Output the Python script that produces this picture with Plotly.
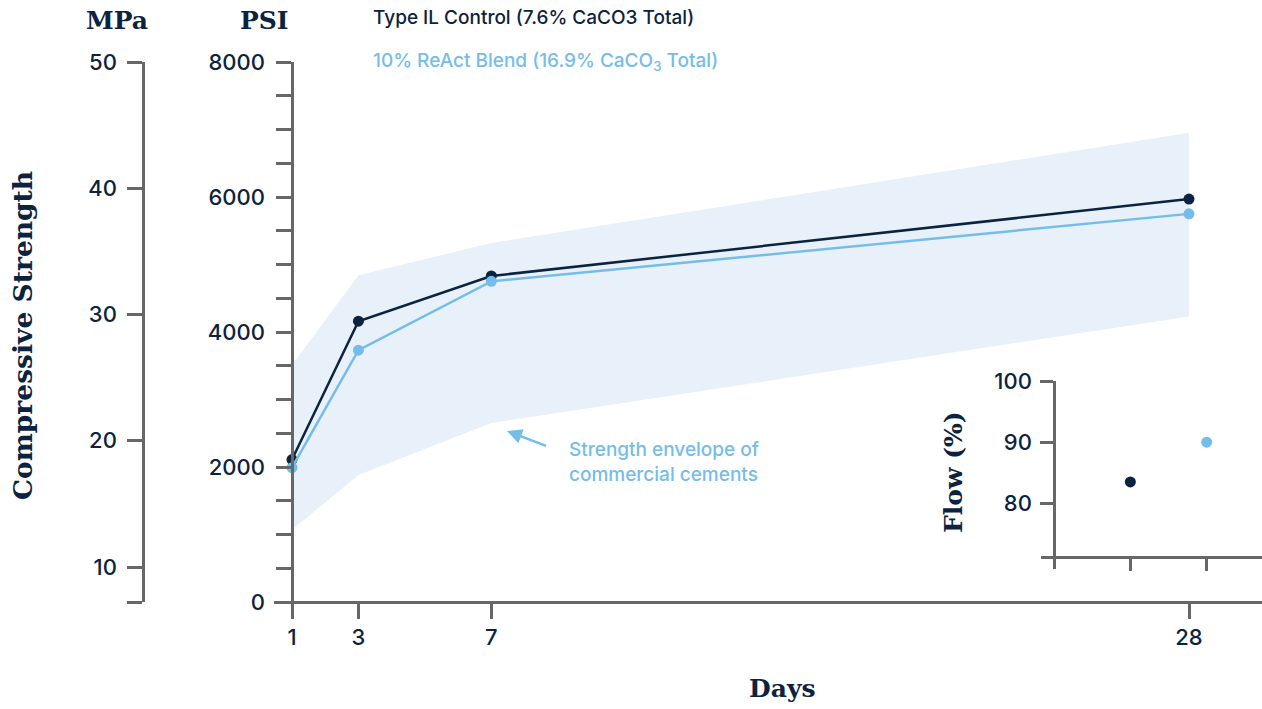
import plotly.graph_objects as go

# ---- data ----
days = [1, 3, 7, 28]
control_psi = [2110, 4160, 4830, 5970]
react_psi = [1990, 3730, 4750, 5750]
envelope_upper = [3510, 4840, 5320, 6950]
envelope_lower = [1070, 1880, 2650, 4230]
psi_ticks = [0, 2000, 4000, 6000, 8000]
mpa_ticks = [10, 20, 30, 40, 50]
flow_x = [1, 2]
flow_vals = [83.5, 90.0]
flow_ticks = [80, 90, 100]
control_name = "Type IL Control (7.6% CaCO3 Total)"
react_name = "10% ReAct Blend (16.9% CaCO<sub>3</sub> Total)"

# ---- style ----
W, H = 1262, 709
NAVY = "#0c2340"
LIGHT = "#74bde9"
FILL = "#e8f1f9"
AX = "#676767"
SANS = "Inter"
SERIF = "DejaVu Serif"


def px(x):
    return x / W


def py(y):
    return 1 - y / H


fig = go.Figure()

# envelope
fig.add_trace(go.Scatter(x=days, y=envelope_lower, mode="lines", line=dict(width=0),
                         hoverinfo="skip", showlegend=False))
fig.add_trace(go.Scatter(x=days, y=envelope_upper, mode="lines", line=dict(width=0),
                         fill="tonexty", fillcolor=FILL, hoverinfo="skip", showlegend=False))
# series
fig.add_trace(go.Scatter(x=days, y=control_psi, mode="lines+markers",
                         line=dict(color=NAVY, width=2.5), marker=dict(color=NAVY, size=11),
                         name=control_name, showlegend=False, cliponaxis=False))
fig.add_trace(go.Scatter(x=days, y=react_psi, mode="lines+markers",
                         line=dict(color=LIGHT, width=2.5), marker=dict(color=LIGHT, size=11),
                         name=react_name, showlegend=False, cliponaxis=False))
# dummy for MPa axis
fig.add_trace(go.Scatter(x=[1], y=[mpa_ticks[-1]], xaxis="x", yaxis="y3", mode="markers",
                         marker=dict(opacity=0), hoverinfo="skip", showlegend=False))
# inset flow
fig.add_trace(go.Scatter(x=flow_x, y=flow_vals, xaxis="x2", yaxis="y2", mode="markers",
                         marker=dict(color=[NAVY, LIGHT], size=11), showlegend=False,
                         cliponaxis=False))

# scales derived from pixel layout
x_day1, x_day28 = 292, 1189
sx = (x_day28 - x_day1) / (days[-1] - days[0])
x_rng = [days[0] - (x_day1 - 274) / sx, days[0] + (W - x_day1) / sx]

y_top, y_zero, y_ext = 62, 602, 617
sy = psi_ticks[-1] / (y_zero - y_top)
y_rng = [-(y_ext - y_zero) * sy, psi_ticks[-1]]

mpa_per_px = (mpa_ticks[-1] - mpa_ticks[0]) / (567 - y_top)
mpa_bottom = mpa_ticks[-1] - (y_zero - y_top) * mpa_per_px

ix0, ix_left = 1054, 1041
isx = (1206.7 - ix0) / 2
ix_rng = [-(ix0 - ix_left) / isx, (W - ix0) / isx]
iy_top, iy_axis, iy_ext = 381, 557.3, 569
isy = (503.3 - iy_top) / (flow_ticks[-1] - flow_ticks[0])
iy_rng = [flow_ticks[-1] - (iy_ext - iy_top) / isy, flow_ticks[-1]]

tickfont = dict(family=SANS, size=22, color=NAVY, weight=500)
common = dict(showgrid=False, zeroline=False, showline=True, linecolor=AX, linewidth=2.5,
              ticks="outside", tickcolor=AX, tickwidth=2.5, tickfont=tickfont, fixedrange=True)

fig.update_layout(
    width=W, height=H,
    margin=dict(l=0, r=0, t=0, b=0, pad=0, autoexpand=False),
    paper_bgcolor="white", plot_bgcolor="rgba(0,0,0,0)",
    showlegend=False,
    xaxis=dict(domain=[px(274), 1], range=x_rng, anchor="free", position=py(y_zero),
               tickmode="array", tickvals=days, ticklen=15, automargin=False, **common),
    yaxis=dict(domain=[py(y_ext), py(y_top)], range=y_rng, anchor="free", position=px(x_day1),
               tickmode="array", tickvals=psi_ticks, ticklen=15, ticklabelstandoff=7,
               automargin=False,
               minor=dict(tickmode="linear", tick0=0, dtick=500, ticklen=15, tickwidth=2.5,
                          tickcolor=AX, ticks="outside"),
               **common),
    yaxis3=dict(domain=[py(y_zero), py(y_top)], range=[mpa_bottom, mpa_ticks[-1]],
                anchor="free", position=px(143), tickmode="array",
                tickvals=[mpa_bottom] + mpa_ticks, ticktext=[" "] + [str(v) for v in mpa_ticks],
                ticklen=15, ticklabelstandoff=6, automargin=False, **common),
    xaxis2=dict(domain=[px(ix_left), 1], range=ix_rng, anchor="free", position=py(iy_axis),
                tickmode="array", tickvals=flow_x, ticklen=12, showticklabels=False,
                automargin=False, **common),
    yaxis2=dict(domain=[py(iy_ext), py(iy_top)], range=iy_rng, anchor="free", position=px(ix0),
                tickmode="array", tickvals=flow_ticks, ticklen=13, ticklabelstandoff=4,
                automargin=False, **common),
)

serif = dict(family=SERIF, size=25, color=NAVY)
ann = [
    dict(text="<b>MPa</b>", x=px(117), y=py(21), font=serif),
    dict(text="<b>PSI</b>", x=px(264), y=py(21), font=serif),
    dict(text="<b>Compressive Strength</b>", x=px(23), y=py(336), textangle=-90,
         font=dict(family=SERIF, size=26.5, color=NAVY)),
    dict(text="<b>Days</b>", x=px(782), y=py(688), font=serif),
    dict(text="<b>Flow (%)</b>", x=px(953), y=py(472), textangle=-90, font=serif),
    dict(text=control_name, x=px(371), y=py(18), xanchor="left",
         font=dict(family=SANS, size=19, color=NAVY, weight=500)),
    dict(text=react_name, x=px(371), y=py(62), xanchor="left",
         font=dict(family=SANS, size=19, color=LIGHT, weight=500)),
    dict(text="Strength envelope of<br>commercial cements", x=px(567), y=py(462),
         xanchor="left", align="left", font=dict(family=SANS, size=19, color=LIGHT, weight=500)),
]
for a in ann:
    a.setdefault("xanchor", "center")
    fig.add_annotation(xref="paper", yref="paper", showarrow=False, yanchor="middle", **a)

# arrow pointing at the envelope
fig.add_annotation(xref="paper", yref="paper", x=px(507), y=py(431), text=" ",
                   showarrow=True, ax=42, ay=16, arrowhead=2, arrowsize=1.2,
                   arrowwidth=2.5, arrowcolor=LIGHT, standoff=0)

fig.write_html("out.html", config={"displayModeBar": False},
               post_script="document.body.style.margin='0px';document.body.style.overflow='hidden';")
